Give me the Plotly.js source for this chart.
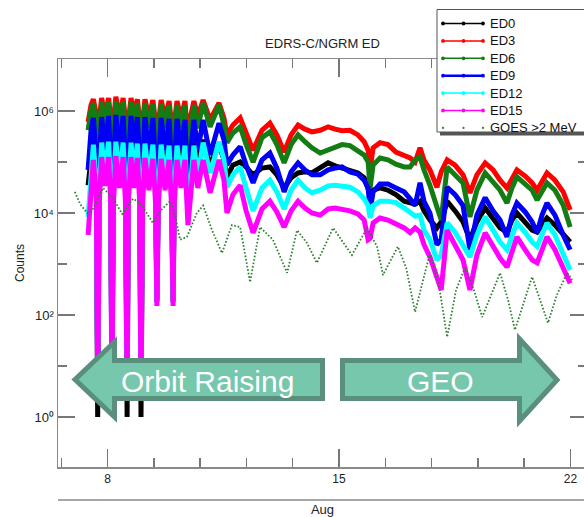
<!DOCTYPE html>
<html>
<head>
<meta charset="utf-8">
<script src="https://cdn.plot.ly/plotly-3.0.1.min.js"></script>
<style>
  html, body { margin: 0; padding: 0; overflow: hidden; background: #fff; }
  #chart { width: 600px; height: 517px; }
</style>
</head>
<body>
<div id="chart"></div>
<script>
// ---------------- DATA ----------------
const chartTitle = 'EDRS-C/NGRM ED';
const yAxisTitle = 'Counts';
const monthLabel = 'Aug';
const seriesNames = ['ED0', 'ED3', 'ED6', 'ED9', 'ED12', 'ED15', 'GOES >2 MeV'];
const xTickVals = [8, 15, 22];
const xTickText = ['8', '15', '22'];
const yTickVals = [1, 100, 1e4, 1e6];
const yTickText = ['10\u2070', '10\u00B2', '10\u2074', '10\u2076'];
const yMinorTickVals = [10, 1e3, 1e5];
const phaseLabels = ['Orbit Raising', 'GEO'];

// day of August (UTC) for the NGRM ED channels
const days = [7.41,7.50,7.57,7.66,7.70,7.75,7.82,7.92,8.03,8.09,8.13,8.18,8.25,8.36,8.47,8.54,8.59,8.63,8.71,8.80,
  8.90,8.97,9.01,9.06,9.13,9.25,9.37,9.45,9.49,9.54,9.62,9.74,9.86,9.93,9.98,10.02,10.10,10.22,10.34,10.43,
  10.52,10.61,10.73,10.89,11.10,11.37,
  11.52,11.61,11.79,12.01,12.19,12.40,12.67,12.91,13.12,13.34,13.55,13.76,13.97,14.18,14.43,14.67,14.88,15.09,15.33,15.57,
  15.76,15.88,15.94,16.03,16.24,16.48,16.72,16.97,17.15,17.30,17.45,17.57,17.75,17.96,18.09,18.27,18.51,18.75,18.96,19.17,
  19.42,19.66,19.87,20.08,20.23,20.38,20.63,20.84,20.99,21.14,21.29,21.53,21.78,21.99];

const ed0 = [3.5e4,1.7e5,3.0e5,5.6e4,1,4.9e4,3.0e5,1.7e5,3.0e5,5.6e4,6.7,4.9e4,3.0e5,1.57e5,2.8e5,4.9e4,1,4.9e4,2.8e5,1.31e5,
  2.7e5,4.9e4,1,4.4e4,2.7e5,1.25e5,2.6e5,4.4e4,180,4.4e4,2.6e5,1.1e5,2.5e5,4.4e4,180,4.4e4,2.5e5,1.2e5,2.5e5,1.7e4,
  1.1e5,2.4e5,1.2e5,2.7e5,8.7e4,2.2e5,
  1.1e5,5.1e4,8.7e4,1.0e5,8.0e4,5.6e4,7.6e4,8.0e4,5.6e4,3.1e4,4.9e4,6.1e4,6.4e4,6.1e4,7.6e4,9.6e4,8.4e4,7.6e4,7.0e4,6.1e4,
  4.9e4,2.8e4,2.3e4,2.8e4,3.1e4,2.8e4,2.3e4,1.7e4,1.6e4,1.5e4,1.7e4,1.1e4,7.3e3,5.1e3,6.7e3,1.7e4,1.1e4,6.7e3,3.0e3,6.7e3,
  1.25e4,8.0e3,5.1e3,4.2e3,7.3e3,1.0e4,6.7e3,4.6e3,4.2e3,5.8e3,8.0e3,5.8e3,3.7e3,2.7e3];

const ed3 = [6.1e5,1.31e6,1.7e6,8.4e5,8.4,7.3e5,1.8e6,8.0e5,1.8e6,7.3e5,11,6.7e5,1.9e6,7.6e5,1.8e6,6.7e5,8.4,6.7e5,1.8e6,8.0e5,
  1.7e6,6.7e5,8.4,6.1e5,1.7e6,7.6e5,1.64e6,6.1e5,250,6.1e5,1.64e6,7.3e5,1.57e6,6.1e5,250,6.1e5,1.57e6,7.3e5,1.57e6,2.7e5,
  8.4e5,1.57e6,8.0e5,1.64e6,6.7e5,1.44e6,
  7.3e5,3.4e5,5.3e5,7.3e5,3.7e5,1.7e5,4.2e5,5.8e5,3.4e5,1.57e5,3.4e5,5.3e5,4.4e5,3.9e5,4.2e5,4.9e5,4.4e5,4.1e5,4.2e5,3.4e5,
  2.5e5,1.7e5,7.0e4,1.9e5,2.4e5,2.2e5,1.57e5,1.31e5,1.2e5,1.0e5,1.9e5,1.1e5,7.0e4,3.2e4,6.4e4,1.1e5,8.7e4,5.6e4,2.5e4,5.6e4,
  9.6e4,7.0e4,4.4e4,3.1e4,4.9e4,7.0e4,5.3e4,3.9e4,2.8e4,4.4e4,6.1e4,4.4e4,2.6e4,1.15e4];

const ed6 = [4.2e5,1.05e6,1.44e6,4.6e5,6.7,4.2e5,1.5e6,4.9e5,1.5e6,4.2e5,8.4,3.9e5,1.57e6,4.6e5,1.5e6,3.9e5,6.7,3.9e5,1.5e6,4.9e5,
  1.44e6,3.9e5,6.7,3.7e5,1.44e6,4.6e5,1.37e6,3.7e5,220,3.7e5,1.37e6,4.6e5,1.31e6,3.7e5,220,3.7e5,1.31e6,4.6e5,1.31e6,1.1e5,
  5.3e5,1.31e6,4.6e5,1.44e6,4.9e5,1.31e6,
  5.3e5,2.4e5,3.7e5,4.9e5,2.2e5,1.0e5,3.0e5,3.9e5,2.2e5,9.6e4,2.2e5,3.4e5,2.5e5,1.9e5,1.5e5,1.7e5,1.9e5,2.2e5,2.1e5,1.7e5,
  1.37e5,1.0e5,3.1e4,8.7e4,1.2e5,1.1e5,9.1e4,8.0e4,8.0e4,1.1e5,1.25e5,7.0e4,3.5e4,1.31e4,7.3e3,8.0e4,5.6e4,3.9e4,8.4e3,2.8e4,
  6.1e4,4.1e4,2.8e4,1.57e4,3.1e4,5.1e4,3.7e4,2.8e4,1.8e4,2.8e4,3.9e4,2.8e4,1.44e4,5.3e3];

const ed9 = [7.0e4,4.2e5,7.3e5,1.1e5,5.3,1.0e5,7.6e5,1.7e5,8.0e5,1.1e5,5.8,1.0e5,8.4e5,1.57e5,8.0e5,1.0e5,5.3,9.6e4,8.0e5,1.57e5,
  7.6e5,9.6e4,4.9,8.7e4,7.6e5,1.5e5,7.3e5,8.7e4,200,8.7e4,7.3e5,1.57e5,7.0e5,8.7e4,200,8.7e4,7.0e5,1.7e5,6.7e5,2.8e4,
  1.7e5,6.7e5,1.7e5,6.7e5,1.37e5,5.8e5,
  2.7e5,8.7e4,1.37e5,2.0e5,8.7e4,3.9e4,1.1e5,1.5e5,7.6e4,2.6e4,6.4e4,9.6e4,7.0e4,5.6e4,5.6e4,7.0e4,7.6e4,8.0e4,6.4e4,5.8e4,
  4.4e4,3.1e4,1.1e4,2.6e4,3.7e4,3.7e4,3.1e4,2.6e4,1.9e4,1.4e4,3.9e4,1.7e4,1.0e4,2.4e3,3.0e3,3.2e4,2.3e4,1.4e4,1.9e3,9.1e3,
  2.0e4,1.1e4,7.3e3,3.4e3,9.1e3,1.57e4,1.05e4,6.7e3,4.1e3,9.1e3,1.57e4,9.1e3,3.7e3,1.9e3];

const ed12 = [8.4e3,8.7e4,2.2e5,3.5e4,3.4,3.1e4,2.4e5,5.6e4,2.5e5,3.4e4,3.7,3.1e4,2.5e5,5.1e4,2.4e5,3.1e4,3.4,3.1e4,2.4e5,5.1e4,
  2.3e5,3.1e4,3.1,2.8e4,2.3e5,4.9e4,2.2e5,2.8e4,180,2.8e4,2.2e5,4.9e4,2.1e5,2.8e4,180,2.8e4,2.1e5,5.3e4,2.1e5,9.1e3,
  4.9e4,2.1e5,5.3e4,2.4e5,6.1e4,2.5e5,
  1.1e5,3.2e4,5.6e4,8.0e4,3.1e4,1.1e4,3.1e4,4.4e4,2.6e4,1.2e4,2.8e4,4.4e4,3.1e4,2.5e4,2.8e4,3.4e4,3.5e4,3.4e4,3.2e4,2.6e4,
  1.9e4,1.4e4,8.0e3,1.4e4,1.7e4,1.7e4,1.6e4,1.25e4,1.05e4,8.7e3,9.1e3,4.6e3,3.0e3,1.2e3,1.5e3,6.4e3,4.2e3,2.4e3,1.37e3,3.7e3,
  8.4e3,4.6e3,2.7e3,1.9e3,3.7e3,6.4e3,4.2e3,2.7e3,2.2e3,3.7e3,6.4e3,3.7e3,1.5e3,7.6e2];

const ed15 = [3.7e3,3.5e4,1.1e5,1.9e4,2.4,1.7e4,1.25e5,3.4e4,1.25e5,1.9e4,2.7,1.7e4,1.31e5,3.1e4,1.25e5,1.7e4,2.4,1.7e4,1.25e5,3.1e4,
  1.2e5,1.7e4,2.2,1.6e4,1.2e5,2.8e4,1.15e5,1.6e4,150,1.6e4,1.15e5,2.8e4,1.1e5,1.6e4,150,1.6e4,1.1e5,3.1e4,1.1e5,5.8e3,
  2.8e4,1.1e5,3.1e4,1.1e5,2.5e4,1.1e5,
  4.4e4,1.0e4,2.3e4,3.5e4,1.1e4,4.1e3,1.2e4,1.7e4,1.05e4,5.3e3,1.1e4,1.7e4,1.25e4,1.0e4,9.1e3,1.2e4,1.25e4,1.2e4,1.1e4,9.6e3,
  7.3e3,3.0e3,3.2e3,6.4e3,8.0e3,7.3e3,6.1e3,5.1e3,4.1e3,5.1e3,4.2e3,2.4e3,1.37e3,4.9e2,3.1e2,4.6e3,2.4e3,1.2e3,3.1e2,1.5e3,
  4.1e3,2.1e3,1.31e3,8.7e2,1.9e3,3.4e3,1.9e3,1.2e3,1.05e3,1.9e3,3.4e3,1.9e3,8.4e2,4.2e2];

// GOES >2 MeV electrons
const goesDays = [7.01,7.17,7.38,7.53,7.86,8.16,8.44,8.77,8.98,9.19,9.37,9.59,9.89,10.04,10.19,10.40,10.70,10.89,11.16,11.46,
  11.76,12.01,12.31,12.61,13.00,13.43,13.73,14.03,14.33,14.82,15.12,15.39,15.85,16.15,16.33,16.78,17.03,17.30,17.75,18.02,
  18.27,18.54,18.81,19.08,19.33,19.87,20.11,20.32,20.84,21.08,21.32,21.59,21.90,22.05];
const goes = [2.6e4,1.5e4,1.0e4,1.1e4,3.1e4,2.0e4,9.6e3,1.9e4,1.6e4,1.0e4,6.4e3,1.1e4,1.7e4,9.1e3,3.0e3,3.4e3,1.0e4,1.4e4,4.6e3,1.64e3,
  5.8e3,5.3e3,4.4e2,5.3e3,3.0e3,6.7e2,4.6e3,2.6e3,1.05e3,5.1e3,2.6e3,1.5e3,5.1e3,2.2e3,6.1e2,2.2e3,8.4e2,1.15e2,1.64e3,3.9e2,
  37,3.1e2,8.4e2,3.1e2,91,6.7e2,2.0e2,51,5.6e2,2.0e2,70,2.5e2,6.7e2,4.9e2];

// ---------------- STYLE / LAYOUT ----------------
const FONT = 'Liberation Sans, Arial, Helvetica, sans-serif';
const colors = ['#000000', '#ff0000', '#137d13', '#0000f5', '#00ffff', '#ff00ff', '#2f7f2f'];
const edData = [ed0, ed3, ed6, ed9, ed12, ed15];

const traces = edData.map((vals, i) => ({
  type: 'scatter', mode: 'lines', name: seriesNames[i],
  x: days, y: vals,
  line: { color: colors[i], width: 5 },
  showlegend: false
}));
traces.push({
  type: 'scatter', mode: 'lines', name: seriesNames[6],
  x: goesDays, y: goes,
  line: { color: colors[6], width: 1.8, dash: '1.6px,1.9px' },
  showlegend: false
});

// plot-area geometry in pixels (used only to place decorations)
const P = { l: 58, t: 59, w: 529, h: 408 };
const fx = x => (x - P.l) / P.w;
const fy = y => (P.t + P.h - y) / P.h;
const pathPx = pts => 'M' + pts.map(p => fx(p[0]).toFixed(5) + ',' + fy(p[1]).toFixed(5)).join('L') + 'Z';

const arrowFill = 'rgb(118,199,172)';
const arrowLine = 'rgb(89,143,124)';
const shapes = [];
const annotations = [];

// second (month) axis line
shapes.push({ type: 'line', xref: 'paper', yref: 'paper', x0: 0, x1: 1.2, y0: fy(500), y1: fy(500),
  line: { color: '#8a8a8a', width: 1.5 }, layer: 'above' });

// phase arrows
shapes.push({ type: 'path', xref: 'paper', yref: 'paper', layer: 'above',
  path: pathPx([[75, 379.5], [114.5, 342], [114.5, 360.5], [322.5, 360.5], [322.5, 398.5], [114.5, 398.5], [114.5, 417]]),
  fillcolor: arrowFill, line: { color: arrowLine, width: 5 } });
shapes.push({ type: 'path', xref: 'paper', yref: 'paper', layer: 'above',
  path: pathPx([[342.5, 360.5], [519.5, 360.5], [519.5, 339], [557, 380], [519.5, 421], [519.5, 398.5], [342.5, 398.5]]),
  fillcolor: arrowFill, line: { color: arrowLine, width: 5 } });
annotations.push({ xref: 'paper', yref: 'paper', x: fx(207), y: fy(381), text: phaseLabels[0], showarrow: false,
  font: { family: FONT, size: 30, color: '#ffffff' }, xanchor: 'center', yanchor: 'middle' });
annotations.push({ xref: 'paper', yref: 'paper', x: fx(440), y: fy(381), text: phaseLabels[1], showarrow: false,
  font: { family: FONT, size: 30, color: '#ffffff' }, xanchor: 'center', yanchor: 'middle' });

// legend box with shadow
shapes.push({ type: 'rect', xref: 'paper', yref: 'paper', layer: 'above',
  x0: fx(440), x1: fx(640), y0: fy(12.5), y1: fy(135.5), fillcolor: '#555555', line: { width: 0 } });
shapes.push({ type: 'rect', xref: 'paper', yref: 'paper', layer: 'above',
  x0: fx(437), x1: fx(637), y0: fy(9.5), y1: fy(132), fillcolor: '#ffffff', line: { color: '#555555', width: 1 } });
seriesNames.forEach((name, i) => {
  const ry = 23.5 + 17.4 * i;
  if (i < 6) {
    shapes.push({ type: 'line', xref: 'paper', yref: 'paper', layer: 'above',
      x0: fx(443), x1: fx(483), y0: fy(ry), y1: fy(ry), line: { color: colors[i], width: i === 3 ? 2.5 : 1.5 } });
  }
  [443, 463.5, 483].forEach(cx => {
    const r = i < 6 ? 1.9 : 1.1;
    shapes.push({ type: 'circle', xref: 'paper', yref: 'paper', layer: 'above',
      x0: fx(cx - r), x1: fx(cx + r), y0: fy(ry + r), y1: fy(ry - r),
      fillcolor: colors[i], line: { width: 0 } });
  });
  annotations.push({ xref: 'paper', yref: 'paper', x: fx(488), y: fy(ry), text: name, showarrow: false,
    xanchor: 'left', yanchor: 'middle', font: { family: FONT, size: 13, color: '#111' } });
});

const axisCommon = {
  showline: true, linecolor: '#8a8a8a', linewidth: 1.5, mirror: 'ticks',
  ticks: 'inside', tickcolor: '#777', tickwidth: 1.5,
  showgrid: false, zeroline: false,
  tickfont: { family: FONT, size: 12, color: '#222' }
};

const layout = {
  width: 600, height: 517,
  margin: { l: 58, r: 13, t: 59, b: 50, pad: 0 },
  paper_bgcolor: '#ffffff', plot_bgcolor: '#ffffff',
  font: { family: FONT, color: '#222' },
  showlegend: false,
  title: { text: chartTitle, font: { family: FONT, size: 13, color: '#222' },
    x: 0.5, xref: 'paper', xanchor: 'center', y: 1 - 43 / 517, yref: 'container', yanchor: 'middle' },
  xaxis: Object.assign({}, axisCommon, {
    range: [6.5, 22.5], tickmode: 'array', tickvals: xTickVals, ticktext: xTickText, ticklen: 18,
    minor: { tick0: 8, dtick: 1.4, ticks: 'inside', ticklen: 9, tickcolor: '#777', tickwidth: 1.5, showgrid: false },
    title: { text: monthLabel, font: { family: FONT, size: 13, color: '#222' }, standoff: 22 }
  }),
  yaxis: Object.assign({}, axisCommon, {
    type: 'log', range: [-0.98, 7.02], tickmode: 'array', tickvals: yTickVals, ticktext: yTickText, ticklen: 17,
    tickfont: { family: FONT, size: 13, color: '#222' },
    minor: { tickvals: yMinorTickVals, ticks: 'inside', ticklen: 9, tickcolor: '#777', tickwidth: 1.5, showgrid: false },
    title: { text: yAxisTitle, font: { family: FONT, size: 12, color: '#222' } }
  }),
  shapes: shapes,
  annotations: annotations
};

Plotly.newPlot('chart', traces, layout, { staticPlot: true, displayModeBar: false });
</script>
</body>
</html>
